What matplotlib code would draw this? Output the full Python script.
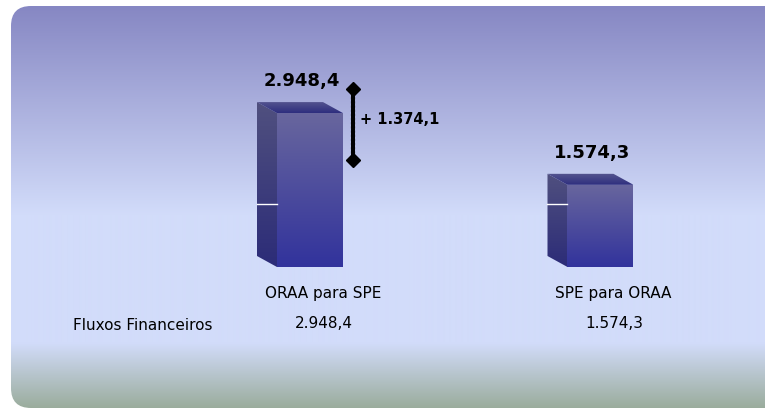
import numpy as np
import matplotlib
matplotlib.use("Agg")
import matplotlib.pyplot as plt
from matplotlib.patches import FancyBboxPatch, Polygon
from matplotlib.colors import to_rgb

# ---- data -------------------------------------------------------------
categories = ["ORAA para SPE", "SPE para ORAA"]
flows = [2948.4, 1574.3]
flow_labels = ["2.948,4", "1.574,3"]
difference = 1374.1
difference_label = "+ 1.374,1"
row_label = "Fluxos Financeiros"
back_gridline = 1000

# ---- figure -----------------------------------------------------------
W, H, DPI = 765, 408, 100
fig = plt.figure(figsize=(W / DPI, H / DPI), dpi=DPI)
fig.patch.set_facecolor("white")

# background panel with vertical gradient, in pixel coordinates
bg = fig.add_axes([0, 0, 1, 1])
bg.set_xlim(0, W)
bg.set_ylim(H, 0)
bg.axis("off")

top_c = np.array(to_rgb("#8687c3"))
light_c = np.array(to_rgb("#d2dcfa"))
bottom_c = np.array(to_rgb("#9aac9c"))
ys = np.arange(H) + 0.5
stop_y = [6, 215, 343, 408]
stop_c = [top_c, light_c, light_c, bottom_c]
grad = np.stack([np.interp(ys, stop_y, [c[k] for c in stop_c]) for k in range(3)], axis=-1)
grad = np.repeat(grad[:, None, :], 2, axis=1)
im = bg.imshow(grad, extent=(0, W, H, 0), aspect="auto", interpolation="bilinear")
panel = FancyBboxPatch((11, 6), 780, 402, boxstyle="round,pad=0,rounding_size=20",
                       facecolor="none", edgecolor="none", transform=bg.transData)
bg.add_patch(panel)
im.set_clip_path(panel)

bg.text(73, 330, row_label, ha="left", va="baseline", fontsize=11,
        family="DejaVu Sans", color="#000000")

# ---- bar axes ---------------------------------------------------------
base_px = 267
px_per_unit = 0.0522
ymax = 4000
x_lo, x_hi = -0.9, 1.55
slot_px = 290.5
ax_left = 310 - (0 - x_lo) * slot_px
ax_w = (x_hi - x_lo) * slot_px
ax_h = ymax * px_per_unit
ax = fig.add_axes([ax_left / W, (H - base_px) / H, ax_w / W, ax_h / H])
ax.set_xlim(x_lo, x_hi)
ax.set_ylim(0, ymax)
ax.axis("off")
ax.patch.set_alpha(0)


def px_to_data(dx_px, dy_px):
    x0, y0 = ax.transData.transform((0, 0))
    p = ax.transData.inverted().transform((x0 + dx_px, y0 + dy_px))
    return p[0], p[1]


def vgrad(c_top, c_bot, n=64):
    t = np.linspace(0, 1, n)[:, None]
    a, b = np.array(to_rgb(c_top)), np.array(to_rgb(c_bot))
    g = a * (1 - t) + b * t
    return np.repeat(g[:, None, :], 2, axis=1)


xs = np.arange(len(categories))
bar_w = 66 / slot_px
ddx, ddy = px_to_data(-20, 11)  # depth of the 3D bars, toward upper-left

bars = ax.bar(xs, flows, width=bar_w, facecolor="none", edgecolor="none")
for b, h in zip(bars, flows):
    x0 = b.get_x()
    x1 = x0 + b.get_width()
    # side face
    side = Polygon([(x0, 0), (x0, h), (x0 + ddx, h + ddy), (x0 + ddx, ddy)],
                   closed=True, facecolor="none", edgecolor="none")
    ax.add_patch(side)
    si = ax.imshow(vgrad("#50507f", "#2c2c78"), extent=(x0 + ddx, x0, 0, h + ddy),
                   aspect="auto", interpolation="bilinear", zorder=2)
    si.set_clip_path(side)
    ax.plot([x0 + ddx, x0], [back_gridline + ddy] * 2, color="white", lw=1, zorder=3)
    # top face
    top = Polygon([(x0, h), (x1, h), (x1 + ddx, h + ddy), (x0 + ddx, h + ddy)],
                  closed=True, facecolor="none", edgecolor="none")
    ax.add_patch(top)
    ti = ax.imshow(vgrad("#565690", "#2e2e7e"), extent=(x0 + ddx, x1, h, h + ddy),
                   aspect="auto", interpolation="bilinear", zorder=2)
    ti.set_clip_path(top)
    # front face
    fi = ax.imshow(vgrad("#68669e", "#32339c"), extent=(x0, x1, 0, h),
                   aspect="auto", interpolation="bilinear", zorder=2)
    fi.set_clip_path(b)

ax.set_xlim(x_lo, x_hi)
ax.set_ylim(0, ymax)

# value labels above bars
for x, h, lab in zip(xs, flows, flow_labels):
    ax.annotate(lab, (x, h), xytext=(-8, 27), textcoords="offset pixels",
                ha="center", va="baseline", fontsize=13, fontweight="bold",
                family="DejaVu Sans", color="#000000", zorder=5)

# category names and table values under the bars
for x, cat, lab in zip(xs, categories, flow_labels):
    ax.annotate(cat, (x, 0), xytext=(13, -31), textcoords="offset pixels",
                ha="center", va="baseline", fontsize=11, family="DejaVu Sans",
                color="#000000", annotation_clip=False)
    ax.annotate(lab, (x, 0), xytext=(14, -61), textcoords="offset pixels",
                ha="center", va="baseline", fontsize=11, family="DejaVu Sans",
                color="#000000", annotation_clip=False)

# difference bracket
bx = bars[0].get_x() + bars[0].get_width() + px_to_data(10, 0)[0]
b_top = flows[0] + 470
b_bot = b_top - difference
ax.plot([bx, bx], [b_top, b_bot], color="black", lw=3, linestyle=(0, (0.45, 0.55)),
        dash_capstyle="round", zorder=5)
ax.plot([bx, bx], [b_top, b_bot], "D", color="black", ms=7, zorder=6)
ax.annotate(difference_label, (bx, (b_top + b_bot) / 2), xytext=(7, 5),
            textcoords="offset pixels", ha="left", va="center", fontsize=10.5,
            fontweight="bold", family="DejaVu Sans", color="#000000", zorder=6)

fig.savefig("out.png", dpi=DPI)
